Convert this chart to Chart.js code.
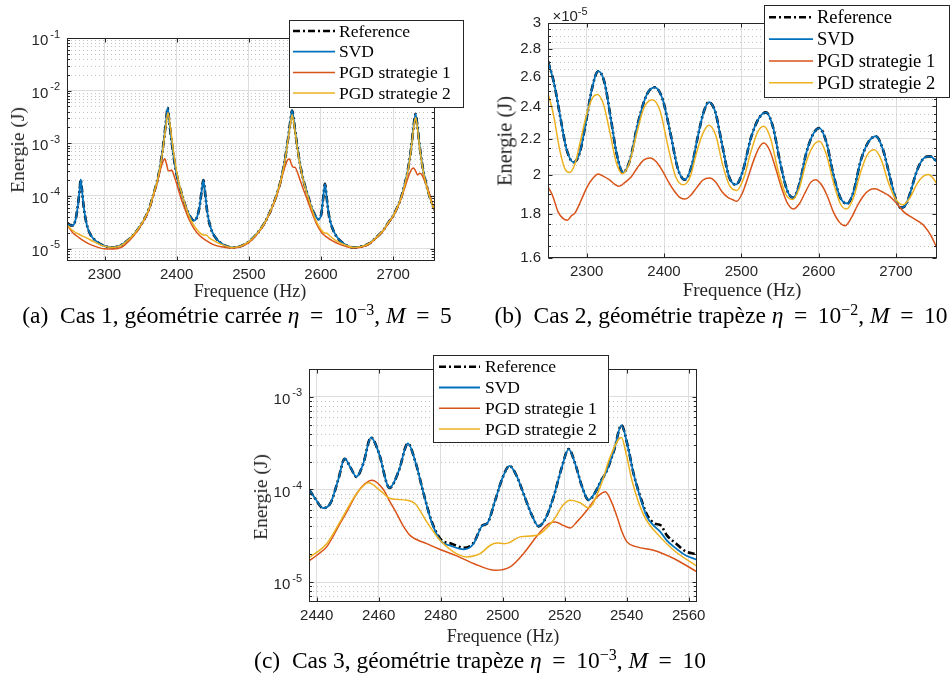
<!DOCTYPE html>
<html>
<head>
<meta charset="utf-8">
<script src="https://cdn.jsdelivr.net/npm/chart.js@4.4.1/dist/chart.umd.min.js"></script>
<style>
  body { margin: 0; background: #fff; width: 952px; height: 678px; position: relative; overflow: hidden; font-family: "Liberation Serif", serif; }
  canvas { position: absolute; }
  .t { position: absolute; white-space: nowrap; transform: translate(-50%, -50%); color: #262626; }
  .rot { transform: translate(-50%, -50%) rotate(-90deg); }
  .cap { font-size: 23.5px; color: #000; }
  .cap sup { font-size: 16px; }
  .mult { font: 15px "Liberation Sans", sans-serif; }
  .mult sup { font-size: 11px; }
</style>
</head>
<body>
<canvas id="chartA" width="475" height="300" style="left:0;top:0"></canvas>
<canvas id="chartB" width="474" height="300" style="left:478px;top:0"></canvas>
<canvas id="chartC" width="480" height="300" style="left:240px;top:345px"></canvas>

<div class="t rot" style="left:18px;top:150px;font-size:19.5px">Energie (J)</div>
<div class="t" style="left:250px;top:291px;font-size:18px">Frequence (Hz)</div>
<div class="t cap" style="left:237px;top:315px">(a)&ensp;Cas 1, géométrie carrée <i>η</i>&thinsp; = &thinsp;10<sup>−3</sup>, <i>M</i>&thinsp; = &thinsp;5</div>

<div class="t rot" style="left:505px;top:141px;font-size:20.5px">Energie (J)</div>
<div class="t" style="left:742px;top:290px;font-size:19px">Frequence (Hz)</div>
<div class="t mult" style="left:570px;top:14px">×10<sup>-5</sup></div>
<div class="t cap" style="left:721px;top:315px">(b)&ensp;Cas 2, géométrie trapèze <i>η</i>&thinsp; = &thinsp;10<sup>−2</sup>, <i>M</i>&thinsp; = &thinsp;10</div>

<div class="t rot" style="left:261px;top:497px;font-size:19.5px">Energie (J)</div>
<div class="t" style="left:503px;top:636px;font-size:18px">Frequence (Hz)</div>
<div class="t cap" style="left:480px;top:660px">(c)&ensp;Cas 3, géométrie trapèze <i>η</i>&thinsp; = &thinsp;10<sup>−3</sup>, <i>M</i>&thinsp; = &thinsp;10</div>

<script>
// (a) Cas 1 -- energie (J)
const aSvdF = [2248, 2252, 2256, 2260, 2263, 2265.5, 2267, 2268.5, 2271, 2275, 2280, 2288, 2298, 2310, 2322, 2334, 2345, 2354, 2362, 2368, 2373, 2377, 2380.5, 2383, 2385.5, 2387.5, 2389.5, 2392, 2394.5, 2398, 2402, 2407, 2413, 2419, 2424, 2428, 2431.5, 2434.5, 2437, 2439.5, 2442.5, 2447, 2454, 2464, 2476, 2488, 2500, 2511, 2520, 2527, 2533, 2539, 2544, 2548, 2551.5, 2554.5, 2557.5, 2560, 2562.5, 2565.5, 2568.5, 2572, 2576, 2581, 2587, 2592, 2597, 2600.5, 2603, 2605.5, 2608, 2611, 2616, 2623, 2633, 2645, 2657, 2667, 2676, 2686, 2694, 2700, 2706, 2711, 2715, 2719, 2722.5, 2725.5, 2728.5, 2731, 2733.5, 2736.5, 2739.5, 2743, 2747, 2751, 2755, 2758];
const aSvdE = [3.1e-5, 2.8e-5, 2.75e-5, 3.6e-5, 6.5e-5, 1.3e-4, 2.05e-4, 1.4e-4, 6.5e-5, 3.0e-5, 1.9e-5, 1.4e-5, 1.15e-5, 1.05e-5, 1.15e-5, 1.5e-5, 2.2e-5, 3.4e-5, 5.8e-5, 1.1e-4, 1.9e-4, 3.6e-4, 7.5e-4, 1.4e-3, 2.8e-3, 4.7e-3, 2.8e-3, 1.4e-3, 7.5e-4, 3.6e-4, 1.9e-4, 1.1e-4, 6.0e-5, 4.0e-5, 3.4e-5, 3.9e-5, 6.0e-5, 1.2e-4, 2.0e-4, 1.1e-4, 4.8e-5, 2.5e-5, 1.6e-5, 1.2e-5, 1.05e-5, 1.1e-5, 1.35e-5, 1.9e-5, 2.8e-5, 4.2e-5, 6.5e-5, 1.1e-4, 1.9e-4, 3.4e-4, 6.5e-4, 1.25e-3, 2.6e-3, 4.2e-3, 2.6e-3, 1.25e-3, 6.5e-4, 3.4e-4, 1.9e-4, 1.1e-4, 6.0e-5, 4.2e-5, 3.6e-5, 4.6e-5, 9.0e-5, 1.7e-4, 9.0e-5, 4.3e-5, 2.4e-5, 1.6e-5, 1.2e-5, 1.05e-5, 1.1e-5, 1.25e-5, 1.6e-5, 2.2e-5, 3.2e-5, 4.2e-5, 6.2e-5, 9.3e-5, 1.45e-4, 2.5e-4, 4.6e-4, 9.3e-4, 2.2e-3, 3.6e-3, 2.2e-3, 9.3e-4, 4.6e-4, 2.5e-4, 1.45e-4, 9.3e-5, 6.5e-5, 5.3e-5];
const aPgd1F = [2248, 2256, 2265, 2275, 2287, 2300, 2312, 2324, 2334, 2345, 2354, 2362, 2368, 2373, 2377, 2380.5, 2383.5, 2386, 2388.5, 2391, 2393, 2396, 2400, 2405, 2411, 2417, 2424, 2432, 2440, 2450, 2462, 2476, 2488, 2500, 2511, 2520, 2527, 2533, 2539, 2544, 2548, 2551.5, 2554, 2556.5, 2559, 2561.5, 2564, 2566.5, 2570, 2575, 2581, 2587, 2594, 2601, 2608, 2616, 2626, 2637, 2648, 2658, 2667, 2676, 2686, 2694, 2700, 2706, 2711, 2715, 2719, 2722.5, 2725.5, 2728, 2731, 2734, 2737, 2740, 2744, 2748, 2752, 2755, 2758];
const aPgd1E = [2.8e-5, 2.0e-5, 1.6e-5, 1.3e-5, 1.1e-5, 9.9e-6, 9.8e-6, 1.06e-5, 1.4e-5, 2.1e-5, 3.3e-5, 5.6e-5, 1.05e-4, 1.8e-4, 3.0e-4, 4.3e-4, 5.1e-4, 4.0e-4, 3.0e-4, 3.0e-4, 3.1e-4, 2.5e-4, 1.7e-4, 1.0e-4, 5.8e-5, 3.6e-5, 2.4e-5, 1.75e-5, 1.45e-5, 1.2e-5, 1.08e-5, 1.02e-5, 1.08e-5, 1.3e-5, 1.85e-5, 2.7e-5, 4.1e-5, 6.3e-5, 1.05e-4, 1.8e-4, 2.9e-4, 4.1e-4, 4.9e-4, 5.0e-4, 4.0e-4, 3.5e-4, 3.5e-4, 3.0e-4, 2.2e-4, 1.4e-4, 8.5e-5, 5.0e-5, 2.9e-5, 2.0e-5, 1.65e-5, 1.4e-5, 1.2e-5, 1.07e-5, 1.03e-5, 1.08e-5, 1.22e-5, 1.55e-5, 2.15e-5, 3.1e-5, 4.1e-5, 6.0e-5, 8.8e-5, 1.3e-4, 1.9e-4, 2.6e-4, 3.2e-4, 3.4e-4, 3.0e-4, 2.5e-4, 2.7e-4, 2.5e-4, 1.9e-4, 1.35e-4, 9.2e-5, 6.5e-5, 5.2e-5];
const aPgd2F = [2248, 2256, 2265, 2275, 2285, 2296, 2310, 2322, 2334, 2345, 2354, 2362, 2368, 2373, 2377, 2380.5, 2383, 2385.5, 2388, 2390.5, 2393, 2395.5, 2399, 2403, 2408, 2414, 2420, 2426, 2432, 2437, 2441, 2445, 2452, 2462, 2476, 2488, 2500, 2511, 2520, 2527, 2533, 2539, 2544, 2548, 2551.5, 2554.5, 2557.5, 2560, 2562.5, 2565.5, 2568.5, 2572, 2576, 2581, 2587, 2593, 2599, 2604, 2608, 2612, 2618, 2626, 2635, 2645, 2657, 2667, 2676, 2686, 2694, 2700, 2706, 2711, 2715, 2719, 2722.5, 2725.5, 2728.5, 2731, 2733.5, 2736.5, 2739.5, 2743, 2747, 2751, 2755, 2758];
const aPgd2E = [2.8e-5, 2.2e-5, 1.85e-5, 1.6e-5, 1.35e-5, 1.15e-5, 1.05e-5, 1.13e-5, 1.5e-5, 2.2e-5, 3.4e-5, 5.8e-5, 1.1e-4, 1.9e-4, 3.5e-4, 7.0e-4, 1.3e-3, 2.4e-3, 3.8e-3, 2.4e-3, 1.3e-3, 7.0e-4, 3.5e-4, 1.8e-4, 1.0e-4, 5.5e-5, 3.4e-5, 2.5e-5, 2.0e-5, 1.8e-5, 1.8e-5, 1.6e-5, 1.4e-5, 1.2e-5, 1.05e-5, 1.1e-5, 1.35e-5, 1.9e-5, 2.8e-5, 4.2e-5, 6.5e-5, 1.1e-4, 1.9e-4, 3.3e-4, 6.2e-4, 1.2e-3, 2.3e-3, 3.5e-3, 2.3e-3, 1.2e-3, 6.2e-4, 3.3e-4, 1.85e-4, 1.05e-4, 5.8e-5, 3.4e-5, 2.4e-5, 2.0e-5, 1.95e-5, 1.75e-5, 1.5e-5, 1.3e-5, 1.15e-5, 1.05e-5, 1.1e-5, 1.25e-5, 1.6e-5, 2.2e-5, 3.2e-5, 4.2e-5, 6.2e-5, 9.2e-5, 1.4e-4, 2.4e-4, 4.4e-4, 8.8e-4, 2.0e-3, 3.1e-3, 2.0e-3, 8.8e-4, 4.4e-4, 2.4e-4, 1.4e-4, 9.2e-5, 6.4e-5, 5.2e-5];
const aXTicks = [2300, 2400, 2500, 2600, 2700];
const aYTicks = [1e-5, 1e-4, 1e-3, 1e-2, 1e-1];

// (b) Cas 2 -- energie en 1e-5 J
const bSvdF = [2250, 2258, 2266, 2274, 2283, 2291, 2299, 2307, 2315, 2323, 2331, 2339, 2347, 2356, 2366, 2378, 2388, 2398, 2408, 2418, 2427, 2436, 2444, 2451, 2458, 2466, 2475, 2484, 2493, 2502, 2512, 2522, 2532, 2541, 2550, 2559, 2567, 2575, 2584, 2593, 2601, 2610, 2619, 2628, 2637, 2645, 2654, 2664, 2674, 2683, 2692, 2700, 2706, 2712, 2718, 2727, 2736, 2744, 2753];
const bSvdE = [2.71, 2.55, 2.33, 2.14, 2.067, 2.12, 2.30, 2.52, 2.637, 2.56, 2.33, 2.11, 2.011, 2.08, 2.29, 2.48, 2.526, 2.45, 2.24, 2.03, 1.973, 2.05, 2.22, 2.36, 2.428, 2.37, 2.17, 1.99, 1.947, 2.02, 2.20, 2.32, 2.362, 2.27, 2.07, 1.92, 1.879, 1.95, 2.12, 2.23, 2.265, 2.18, 2.00, 1.88, 1.851, 1.91, 2.07, 2.18, 2.216, 2.14, 1.99, 1.87, 1.83, 1.84, 1.90, 2.02, 2.09, 2.10, 2.07];
const bPgd1F = [2250, 2256, 2263, 2269, 2275, 2280, 2285, 2292, 2300, 2308, 2315, 2322, 2330, 2336, 2342, 2350, 2358, 2366, 2374, 2382, 2390, 2398, 2406, 2414, 2421, 2427, 2434, 2442, 2450, 2459, 2467, 2475, 2483, 2489, 2494, 2501, 2509, 2517, 2523, 2529, 2536, 2544, 2552, 2560, 2567, 2575, 2583, 2590, 2596, 2603, 2611, 2619, 2627, 2634, 2642, 2650, 2658, 2666, 2673, 2682, 2692, 2701, 2710, 2720, 2729, 2737, 2745, 2753];
const bPgd1E = [1.935, 1.89, 1.81, 1.78, 1.77, 1.79, 1.805, 1.86, 1.93, 1.98, 2.003, 1.99, 1.97, 1.95, 1.938, 1.96, 1.99, 2.04, 2.08, 2.091, 2.07, 2.02, 1.96, 1.91, 1.88, 1.873, 1.89, 1.93, 1.97, 1.982, 1.96, 1.91, 1.88, 1.87, 1.862, 1.90, 1.99, 2.09, 2.15, 2.176, 2.14, 2.04, 1.93, 1.85, 1.824, 1.85, 1.91, 1.96, 1.973, 1.95, 1.89, 1.81, 1.76, 1.744, 1.78, 1.84, 1.89, 1.92, 1.925, 1.91, 1.887, 1.85, 1.81, 1.785, 1.765, 1.741, 1.70, 1.643];
const bPgd2F = [2250, 2257, 2265, 2272, 2278, 2285, 2292, 2300, 2307, 2314, 2322, 2330, 2338, 2346, 2355, 2364, 2374, 2385, 2395, 2405, 2415, 2425, 2434, 2442, 2450, 2458, 2467, 2476, 2485, 2494, 2503, 2512, 2521, 2529, 2538, 2547, 2557, 2566, 2575, 2584, 2593, 2601, 2610, 2619, 2628, 2636, 2645, 2654, 2663, 2672, 2681, 2690, 2700, 2709, 2718, 2727, 2735, 2742, 2748, 2753];
const bPgd2E = [2.488, 2.35, 2.14, 2.03, 2.011, 2.06, 2.19, 2.35, 2.45, 2.477, 2.41, 2.24, 2.07, 2.005, 2.06, 2.22, 2.39, 2.443, 2.37, 2.16, 1.99, 1.946, 1.99, 2.12, 2.23, 2.282, 2.22, 2.05, 1.94, 1.917, 1.98, 2.12, 2.24, 2.276, 2.20, 2.03, 1.90, 1.871, 1.93, 2.07, 2.16, 2.186, 2.11, 1.96, 1.85, 1.824, 1.88, 2.01, 2.11, 2.137, 2.08, 1.96, 1.87, 1.845, 1.88, 1.95, 1.99, 2.00, 1.98, 1.95];
const bXTicks = [2300, 2400, 2500, 2600, 2700];
const bYTicks = [1.6, 1.8, 2, 2.2, 2.4, 2.6, 2.8, 3];

// (c) Cas 3 -- energie (J)
const cSvdF = [2437.5, 2439.5, 2442, 2444.5, 2447, 2449, 2451, 2452.8, 2455, 2457.5, 2460, 2463.5, 2466.5, 2469.4, 2472, 2474.5, 2477, 2480, 2483.5, 2487.4, 2490.6, 2493.5, 2495, 2497.5, 2500, 2502.2, 2504.5, 2507, 2509.5, 2511.6, 2514, 2516.5, 2519, 2521.3, 2523.5, 2525.5, 2527.7, 2530, 2531.5, 2533.6, 2536, 2538.3, 2540.3, 2542.2, 2544.5, 2546.5, 2549, 2551, 2553, 2556, 2559, 2562.7];
const cSvdE = [1.0e-4, 8.0e-5, 6.3e-5, 7.2e-5, 1.3e-4, 2.15e-4, 1.7e-4, 1.37e-4, 1.9e-4, 3.65e-4, 2.5e-4, 1.04e-4, 1.6e-4, 3.14e-4, 1.9e-4, 9.0e-5, 4.5e-5, 2.8e-5, 2.45e-5, 2.26e-5, 2.6e-5, 4.1e-5, 4.3e-5, 7.5e-5, 1.35e-4, 1.8e-4, 1.4e-4, 8.5e-5, 5.2e-5, 4.0e-5, 5.0e-5, 8.5e-5, 1.7e-4, 2.73e-4, 1.85e-4, 1.1e-4, 7.7e-5, 9.5e-5, 1.2e-4, 1.6e-4, 2.7e-4, 4.95e-4, 3.0e-4, 1.5e-4, 8.0e-5, 5.1e-5, 4.0e-5, 3.45e-5, 2.8e-5, 2.3e-5, 1.95e-5, 1.75e-5];
const cRefE = [1.0e-4, 8.0e-5, 6.3e-5, 7.2e-5, 1.3e-4, 2.15e-4, 1.7e-4, 1.37e-4, 1.9e-4, 3.65e-4, 2.5e-4, 1.04e-4, 1.6e-4, 3.14e-4, 1.9e-4, 9.0e-5, 4.6e-5, 2.9e-5, 2.6e-5, 2.35e-5, 2.65e-5, 4.1e-5, 4.3e-5, 7.5e-5, 1.35e-4, 1.8e-4, 1.4e-4, 8.5e-5, 5.2e-5, 4.0e-5, 5.0e-5, 8.5e-5, 1.7e-4, 2.73e-4, 1.85e-4, 1.1e-4, 7.7e-5, 9.5e-5, 1.2e-4, 1.6e-4, 2.7e-4, 4.95e-4, 3.0e-4, 1.5e-4, 8.2e-5, 5.4e-5, 4.3e-5, 4.1e-5, 3.2e-5, 2.6e-5, 2.15e-5, 2.0e-5];
const cPgd1F = [2437.5, 2440, 2443.2, 2447.5, 2450, 2452.9, 2455.5, 2457.8, 2461.5, 2463.5, 2465.8, 2468, 2470.1, 2475.5, 2479.8, 2485.2, 2490.6, 2497.6, 2502.4, 2506.7, 2512.1, 2515, 2517, 2519.5, 2521.8, 2524, 2527.2, 2530, 2533.1, 2535, 2536.9, 2538.5, 2540.1, 2543.3, 2548.7, 2555.2, 2562.7];
const cPgd1E = [1.69e-5, 1.95e-5, 2.4e-5, 4.28e-5, 6.0e-5, 9.05e-5, 1.15e-4, 1.26e-4, 1.0e-4, 7.5e-5, 5.5e-5, 4.0e-5, 3.2e-5, 2.6e-5, 2.25e-5, 1.92e-5, 1.59e-5, 1.34e-5, 1.46e-5, 2.03e-5, 3.48e-5, 4.3e-5, 4.47e-5, 4.1e-5, 3.85e-5, 4.5e-5, 5.98e-5, 8.0e-5, 9.44e-5, 7.5e-5, 5.07e-5, 3.5e-5, 2.72e-5, 2.4e-5, 2.21e-5, 1.8e-5, 1.29e-5];
const cPgd2F = [2437.5, 2443.2, 2447.5, 2452.9, 2456.7, 2460.4, 2463.7, 2469.1, 2471.7, 2475.5, 2479.8, 2484.1, 2488.4, 2492.7, 2496, 2498.1, 2500.5, 2501.9, 2505.6, 2511, 2516.4, 2519.5, 2521.8, 2525, 2527.7, 2531.5, 2534.7, 2538.3, 2540, 2541.7, 2545.5, 2550.8, 2555.2, 2562.7];
const cPgd2E = [1.84e-5, 2.6e-5, 4.47e-5, 9.05e-5, 1.18e-4, 9.8e-5, 8.0e-5, 7.67e-5, 7.06e-5, 4.47e-5, 2.83e-5, 2.12e-5, 1.87e-5, 2.03e-5, 2.5e-5, 2.65e-5, 2.6e-5, 2.65e-5, 3.08e-5, 3.2e-5, 4.66e-5, 6.8e-5, 7.67e-5, 7.2e-5, 6.34e-5, 1.07e-4, 2.25e-4, 3.65e-4, 2.3e-4, 1.26e-4, 5.28e-5, 3.08e-5, 2.21e-5, 1.48e-5];
const cXTicks = [2440, 2460, 2480, 2500, 2520, 2540, 2560];
const cYTicks = [1e-5, 1e-4, 1e-3];

const labels = ['Reference', 'SVD', 'PGD strategie 1', 'PGD strategie 2'];

const pts = (f, e) => f.map((v, i) => ({ x: v, y: e[i] }));
const sansFont = '"Liberation Sans", Arial, sans-serif';

// minor grid values for log axes: 2..9 x 10^n
function logMinor(min, max) {
    const out = [];
    for (let d = -7; d <= 0; d++) {
        for (let k = 2; k <= 9; k++) {
            const v = k * Math.pow(10, d);
            if (v > min * 1.001 && v < max * 0.999) out.push(v);
        }
    }
    return out;
}

const framePlugin = {
    id: 'frame',
    beforeDatasetsDraw(chart, args, o) {
        const { ctx, chartArea: a } = chart;
        const y = chart.scales.y;
        ctx.save();
        ctx.strokeStyle = '#c3c3c3';
        ctx.lineWidth = 1;
        ctx.setLineDash([1, 3]);
        o.minor.forEach(v => {
            const py = Math.round(y.getPixelForValue(v)) + 0.5;
            ctx.beginPath();
            ctx.moveTo(a.left, py);
            ctx.lineTo(a.right, py);
            ctx.stroke();
        });
        ctx.restore();
    },
    afterDatasetsDraw(chart, args, o) {
        const { ctx, chartArea: a } = chart;
        const x = chart.scales.x, y = chart.scales.y;
        const L = Math.round(a.left) + 0.5, R = Math.round(a.right) - 0.5;
        const T = Math.round(a.top) + 0.5, B = Math.round(a.bottom) - 0.5;
        ctx.save();
        ctx.strokeStyle = '#262626';
        ctx.lineWidth = 1;
        ctx.strokeRect(L, T, R - L, B - T);
        ctx.beginPath();
        const yTick = (v, len) => {
            const p = Math.round(y.getPixelForValue(v)) + 0.5;
            ctx.moveTo(L, p); ctx.lineTo(L + len, p);
            ctx.moveTo(R, p); ctx.lineTo(R - len, p);
        };
        y.ticks.forEach(t => yTick(t.value, 4));
        o.minor.forEach(v => yTick(v, 2.5));
        x.ticks.forEach(t => {
            const p = Math.round(x.getPixelForValue(t.value)) + 0.5;
            ctx.moveTo(p, B); ctx.lineTo(p, B - 4);
            ctx.moveTo(p, T); ctx.lineTo(p, T + 4);
        });
        ctx.stroke();

        // power-of-ten labels: "10" with a raised exponent
        if (o.pow10) {
            ctx.fillStyle = '#262626';
            ctx.textAlign = 'right';
            ctx.textBaseline = 'middle';
            const x0 = a.left - 7;
            y.ticks.forEach(t => {
                const p = y.getPixelForValue(t.value);
                const e = String(Math.round(Math.log10(t.value)));
                ctx.font = '11px ' + sansFont;
                const ew = ctx.measureText(e).width;
                ctx.fillText(e, x0, p - 3.5);
                ctx.font = '15px ' + sansFont;
                ctx.fillText('10', x0 - ew - 2, p + 3);
            });
        }
        ctx.restore();
    }
};

const legendPlugin = {
    id: 'legendBox',
    afterDraw(chart, args, o) {
        const ctx = chart.ctx;
        ctx.save();
        ctx.fillStyle = '#fff';
        ctx.fillRect(o.x, o.y, o.w, o.h);
        ctx.strokeStyle = '#262626';
        ctx.lineWidth = 1;
        ctx.strokeRect(Math.round(o.x) + 0.5, Math.round(o.y) + 0.5, Math.round(o.w), Math.round(o.h));
        chart.data.datasets.forEach((ds, i) => {
            const yy = o.y + o.row0 + i * o.step;
            ctx.strokeStyle = ds.borderColor;
            ctx.lineWidth = ds.borderWidth;
            ctx.setLineDash(ds.borderDash || []);
            ctx.beginPath();
            ctx.moveTo(o.x + o.s0, yy);
            ctx.lineTo(o.x + o.s1, yy);
            ctx.stroke();
            ctx.setLineDash([]);
            ctx.fillStyle = '#000';
            ctx.font = o.font + 'px "Liberation Serif"';
            ctx.textBaseline = 'middle';
            ctx.fillText(ds.label, o.x + o.tx, yy + 1);
        });
        ctx.restore();
    }
};

function lineSet(label, data, color, width, order, dash) {
    return {
        label, data, order,
        borderColor: color,
        borderWidth: width,
        borderDash: dash || [],
        pointRadius: 0,
        cubicInterpolationMode: 'monotone',
        fill: false
    };
}

function makeChart(id, p) {
    Chart.defaults.font.family = sansFont;
    Chart.defaults.color = '#262626';
    return new Chart(document.getElementById(id), {
        type: 'line',
        data: {
            datasets: [
                lineSet(labels[0], p.ref, '#000000', 2.6, 4, [7, 3, 2, 3]),
                lineSet(labels[1], p.svd, '#0072BD', 1.8, 3),
                lineSet(labels[2], p.pgd1, '#D95319', 1.5, 2),
                lineSet(labels[3], p.pgd2, '#EDB120', 1.5, 1)
            ]
        },
        options: {
            responsive: false,
            animation: false,
            events: [],
            layout: { padding: { left: 0, top: p.area.top, right: p.area.right, bottom: 0 } },
            plugins: {
                legend: { display: false },
                tooltip: { enabled: false },
                frame: { minor: p.minor, pow10: p.pow10 },
                legendBox: p.legend
            },
            scales: {
                x: {
                    type: 'linear',
                    min: p.xMin,
                    max: p.xMax,
                    afterBuildTicks: s => { s.ticks = p.xTicks.map(v => ({ value: v })); },
                    afterFit: s => { s.height = p.area.xh; },
                    grid: { color: '#dedede', drawTicks: false },
                    border: { display: false },
                    ticks: { font: { size: 15 }, padding: 5, maxRotation: 0, callback: v => String(v) }
                },
                y: {
                    type: 'logarithmic',
                    min: p.yMin,
                    max: p.yMax,
                    afterBuildTicks: s => { s.ticks = p.yTicks.map(v => ({ value: v })); },
                    afterFit: s => { s.width = p.area.left; },
                    grid: { color: '#dedede', drawTicks: false },
                    border: { display: false },
                    ticks: { display: !p.pow10, font: { size: 15 }, padding: 7, callback: v => String(+v.toFixed(1)) }
                }
            }
        },
        plugins: [framePlugin, legendPlugin]
    });
}

// (a)
makeChart('chartA', {
    ref: pts(aSvdF, aSvdE), svd: pts(aSvdF, aSvdE), pgd1: pts(aPgd1F, aPgd1E), pgd2: pts(aPgd2F, aPgd2E),
    xMin: 2248, xMax: 2758, yMin: 5.8e-6, yMax: 1e-1,
    xTicks: aXTicks, yTicks: aYTicks, pow10: true,
    minor: logMinor(5.8e-6, 1e-1),
    area: { left: 67, top: 38, right: 40, xh: 39 },
    legend: { x: 289, y: 20, w: 174, h: 87, row0: 11, step: 20.7, s0: 4, s1: 46, tx: 50, font: 17.5 }
});

// (b)
const bMinor = [];
for (let k = 33; k <= 59; k++) { if (k % 4 !== 0) bMinor.push(k * 0.05); }
makeChart('chartB', {
    ref: pts(bSvdF, bSvdE), svd: pts(bSvdF, bSvdE), pgd1: pts(bPgd1F, bPgd1E), pgd2: pts(bPgd2F, bPgd2E),
    xMin: 2250, xMax: 2753, yMin: 1.6, yMax: 3,
    xTicks: bXTicks, yTicks: bYTicks, pow10: false,
    minor: bMinor,
    area: { left: 70, top: 23, right: 15, xh: 42 },
    legend: { x: 286, y: 5, w: 185, h: 92, row0: 12.3, step: 21.8, s0: 5, s1: 49, tx: 53, font: 18.5 }
});

// (c)
makeChart('chartC', {
    ref: pts(cSvdF, cRefE), svd: pts(cSvdF, cSvdE), pgd1: pts(cPgd1F, cPgd1E), pgd2: pts(cPgd2F, cPgd2E),
    xMin: 2437.5, xMax: 2562.7, yMin: 6.1e-6, yMax: 2.0e-3,
    xTicks: cXTicks, yTicks: cYTicks, pow10: true,
    minor: logMinor(6.1e-6, 2.0e-3),
    area: { left: 69, top: 24, right: 23, xh: 43 },
    legend: { x: 193, y: 10, w: 175, h: 87, row0: 11.7, step: 20.8, s0: 6, s1: 47, tx: 52, font: 17.5 }
});
</script>
</body>
</html>
